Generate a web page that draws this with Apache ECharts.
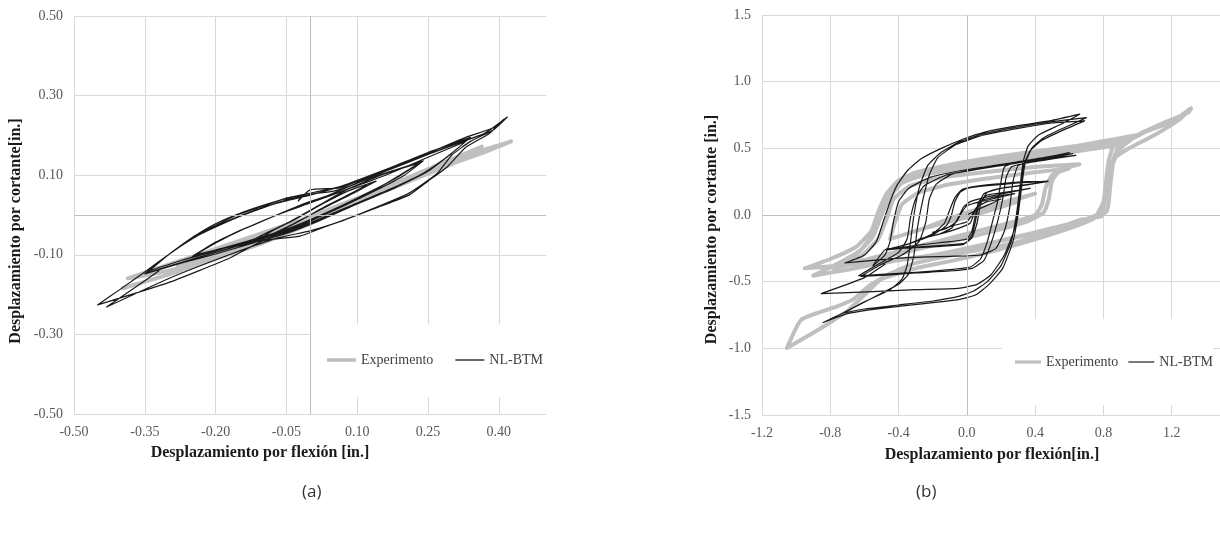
<!DOCTYPE html>
<html>
<head>
<meta charset="utf-8">
<title>Desplazamiento por cortante vs. flexión</title>
<script src="https://cdn.jsdelivr.net/npm/echarts@6/dist/echarts.min.js"></script>
<style>
html, body { margin: 0; padding: 0; background: #fff; }
#main { width: 1220px; height: 540px; }
</style>
</head>
<body>
<div id="main"></div>
<script>
// valores: [flexion, cortante] en pulgadas
var expA = [
  [0,-0.01],[0.08,0.025],[0.15,0.058],[0.08,0.022],[0,-0.015],[-0.08,-0.05],[-0.15,-0.078],[-0.08,-0.045],
  [0,-0.008],[0.1,0.038],[0.2,0.085],[0.28,0.122],[0.2,0.08],[0.1,0.032],[0,-0.018],[-0.1,-0.06],
  [-0.2,-0.1],[-0.28,-0.128],[-0.2,-0.09],[-0.1,-0.05],[0,-0.005],[0.12,0.05],[0.24,0.108],[0.3,0.14],
  [0.364,0.172],[0.3,0.135],[0.2,0.088],[0.1,0.038],[0,-0.02],[-0.1,-0.065],[-0.2,-0.105],[-0.3,-0.14],
  [-0.386,-0.159],[-0.3,-0.125],[-0.2,-0.085],[-0.1,-0.045],[0,-0.005],[0.1,0.042],[0.2,0.09],[0.3,0.14],
  [0.38,0.168],[0.426,0.185],[0.37,0.158],[0.3,0.128],[0.2,0.08],[0.1,0.032],[0,-0.022],[-0.1,-0.07],
  [-0.2,-0.11],[-0.3,-0.15],[-0.397,-0.184]
];
var btmA = [
  [0,0],[0.05,0.03],[0.1,0.06],[0.12,0.075],[0.08,0.05],[0.03,0.02],[-0.03,-0.02],[-0.08,-0.05],[-0.12,-0.07],
  [-0.08,-0.04],[-0.03,-0.01],[0.03,0.03],[0.08,0.06],[0.14,0.085],[0.1,0.06],[0.04,0.025],[-0.04,-0.025],
  [-0.1,-0.058],[-0.15,-0.08],[-0.1,-0.05],[-0.04,-0.015],
  [0.02,0.025],[0.08,0.065],[0.15,0.1],[0.23,0.13],
  [0.19,0.1],[0.14,0.065],[0.08,0.03],[0.02,-0.005],[-0.04,-0.035],[-0.1,-0.058],[-0.17,-0.08],[-0.244,-0.1],
  [-0.2,-0.07],[-0.15,-0.04],[-0.09,-0.01],[-0.03,0.02],[0.03,0.045],[0.1,0.08],[0.17,0.108],[0.235,0.133],
  [0.19,0.098],[0.13,0.06],[0.07,0.025],[0,-0.012],[-0.06,-0.04],[-0.13,-0.065],[-0.19,-0.085],[-0.248,-0.103],
  [-0.2,-0.068],[-0.14,-0.035],[-0.08,-0.005],[-0.02,0.025],[0.04,0.05],[0.11,0.085],[0.18,0.113],[0.24,0.136],
  [0.2,0.1],[0.14,0.062],[0.07,0.022],[0,-0.015],[-0.07,-0.045],[-0.14,-0.07],[-0.2,-0.088],[-0.25,-0.105],
  [-0.2,-0.07],[-0.14,-0.035],[-0.07,0],[0,0.03],[0.08,0.065],[0.16,0.1],[0.25,0.145],[0.33,0.185],
  [0.29,0.145],[0.24,0.105],[0.17,0.065],[0.09,0.025],[0.02,-0.01],[-0.05,-0.04],[-0.12,-0.062],[-0.2,-0.09],[-0.27,-0.113],[-0.34,-0.14],
  [-0.3,-0.1],[-0.25,-0.06],[-0.2,-0.028],[-0.14,0.002],[-0.07,0.03],[0,0.05],[0.08,0.076],[0.16,0.11],[0.25,0.152],[0.335,0.19],
  [0.295,0.15],[0.245,0.108],[0.175,0.066],[0.095,0.025],[0.02,-0.012],[-0.05,-0.043],[-0.12,-0.066],[-0.2,-0.094],[-0.27,-0.118],[-0.345,-0.145],
  [-0.3,-0.1],[-0.25,-0.057],[-0.2,-0.022],[-0.14,0.008],[-0.07,0.035],[-0.02,0.05],[0.06,0.07],[0.16,0.114],[0.25,0.157],[0.34,0.195],
  [0.3,0.155],[0.25,0.11],[0.18,0.068],[0.1,0.028],[0.02,-0.014],[-0.05,-0.046],[-0.12,-0.07],[-0.2,-0.098],[-0.27,-0.12],[-0.35,-0.148],
  [-0.3,-0.1],[-0.248,-0.055],[-0.2,-0.026],[-0.155,0],[-0.1,0.022],[-0.049,0.043],[-0.017,0.05],[-0.025,0.035],[0,0.063],
  [0.064,0.068],[0.106,0.088],[0.2,0.13],[0.3,0.175],[0.37,0.205],[0.418,0.246],
  [0.39,0.215],[0.34,0.185],[0.3,0.15],[0.27,0.105],[0.21,0.055],[0.1,0],[0.02,-0.035],[-0.021,-0.053],[-0.1,-0.065],
  [-0.17,-0.108],[-0.3,-0.17],[-0.45,-0.226],
  [-0.4,-0.185],[-0.35,-0.143],[-0.3,-0.1],[-0.248,-0.058],[-0.2,-0.03],[-0.15,-0.004],[-0.1,0.018],[-0.05,0.038],
  [0,0.052],[0.05,0.06],[0.09,0.075],[0.15,0.105],[0.25,0.155],[0.33,0.195],[0.39,0.22],[0.41,0.24],
  [0.38,0.205],[0.33,0.17],[0.29,0.12],[0.25,0.085],[0.21,0.05],[0.14,0.018],[0.06,-0.018],[0,-0.04],[-0.07,-0.058],
  [-0.16,-0.095],[-0.3,-0.16],[-0.431,-0.231],[-0.38,-0.19],[-0.32,-0.14]
];
var expB = [
  [0,0],[0.15,0.06],[0.3,0.1],[0.2,0.06],[0.05,0],[-0.1,-0.05],[-0.25,-0.1],[-0.15,-0.05],[0,0.02],[0.2,0.09],
  [0.4,0.16],[0.3,0.12],[0.1,0.04],[-0.1,-0.04],[-0.3,-0.12],[-0.45,-0.18],
  [-0.42,-0.05],[-0.38,0.08],[-0.28,0.17],[-0.1,0.23],[0.15,0.28],[0.4,0.32],[0.6,0.35],
  [0.5,0.3],[0.46,0.2],[0.44,0.08],[0.4,0],[0.25,-0.06],[0,-0.14],[-0.3,-0.24],[-0.55,-0.32],[-0.75,-0.39],
  [-0.62,-0.31],[-0.52,-0.18],[-0.47,-0.03],[-0.43,0.12],[-0.33,0.22],[-0.15,0.28],[0.1,0.32],[0.4,0.36],[0.66,0.38],
  [0.55,0.34],[0.5,0.26],[0.48,0.12],[0.45,0.02],[0.35,-0.05],[0.1,-0.14],[-0.2,-0.23],[-0.5,-0.32],[-0.78,-0.4],
  [-0.65,-0.3],[-0.55,-0.16],[-0.5,0],[-0.46,0.15],[-0.4,0.24],[-0.28,0.31],[-0.07,0.37],[0.28,0.44],[0.6,0.5],[0.8,0.53],[0.95,0.57],
  [0.86,0.52],[0.83,0.4],[0.81,0.2],[0.79,0.02],[0.65,-0.05],[0.4,-0.13],[0.1,-0.22],[-0.2,-0.3],[-0.5,-0.35],[-0.75,-0.38],[-0.95,-0.4],
  [-0.8,-0.33],[-0.65,-0.24],[-0.56,-0.12],[-0.52,0.02],[-0.47,0.16],[-0.4,0.26],[-0.3,0.32],[-0.05,0.39],[0.3,0.46],[0.65,0.52],[1,0.6],
  [0.9,0.54],[0.86,0.42],[0.84,0.22],[0.82,0.03],[0.7,-0.04],[0.45,-0.12],[0.15,-0.21],[-0.15,-0.29],[-0.45,-0.35],[-0.7,-0.41],[-0.9,-0.455],
  [-0.75,-0.36],[-0.62,-0.26],[-0.55,-0.14],[-0.5,0],[-0.45,0.14],[-0.38,0.24],[-0.25,0.3],[0,0.36],[0.3,0.42],[0.6,0.47],[0.9,0.53],[1.04,0.62],
  [1.2,0.7],[1.313,0.8],[1.297,0.768],[1.15,0.69],[1,0.6],[0.9,0.5],[0.86,0.4],[0.82,0.2],[0.8,0.05],[0.788,-0.01],
  [0.673,-0.034],[0.511,-0.109],[0.28,-0.209],[-0.02,-0.284],[-0.3,-0.36],[-0.45,-0.44],[-0.576,-0.535],[-0.668,-0.635],
  [-0.76,-0.685],[-0.97,-0.785],[-1.054,-0.998],
  [-0.843,-0.84],[-0.7,-0.72],[-0.6,-0.6],[-0.5,-0.48],[-0.3,-0.4],[0,-0.32],[0.3,-0.22],[0.6,-0.1],[0.75,-0.02],
  [0.8,0.1],[0.82,0.25],[0.86,0.42],[0.95,0.5],[1.1,0.6],[1.25,0.72],[1.3,0.79]
];
var btmB = [
  [0,0],[0.08,0.05],[0.15,0.09],[0.2,0.12],[0.12,0.1],[0.06,0.06],[0.03,0],[0,-0.05],[-0.08,-0.08],[-0.15,-0.11],
  [-0.2,-0.13],[-0.12,-0.1],[-0.06,-0.05],[-0.03,0.02],[0,0.07],[0.08,0.1],[0.18,0.13],[0.28,0.16],[0.18,0.14],
  [0.09,0.11],[0.05,0.04],[0.02,-0.06],[-0.05,-0.1],[-0.15,-0.14],[-0.28,-0.18],[-0.18,-0.15],[-0.09,-0.1],
  [-0.05,-0.02],[-0.02,0.06],[0.02,0.1],[0.1,0.13],[0.25,0.17],[0.37,0.2],
  [0.25,0.175],[0.12,0.15],[0.07,0.1],[0.05,0],[0.03,-0.12],[0,-0.18],[-0.1,-0.2],[-0.25,-0.22],[-0.472,-0.26],
  [-0.35,-0.22],[-0.2,-0.15],[-0.12,-0.08],[-0.09,0],[-0.07,0.1],[-0.04,0.17],[0,0.2],[0.12,0.22],[0.3,0.24],[0.476,0.254],
  [0.35,0.225],[0.2,0.2],[0.1,0.16],[0.07,0.08],[0.05,-0.05],[0.03,-0.15],[-0.01,-0.21],[-0.12,-0.225],[-0.3,-0.24],[-0.47,-0.262],
  [-0.33,-0.21],[-0.2,-0.14],[-0.13,-0.06],[-0.1,0.04],[-0.07,0.13],[-0.03,0.19],[0.05,0.215],[0.2,0.235],[0.35,0.25],[0.47,0.25],
  [0.36,0.23],[0.22,0.205],[0.12,0.17],[0.08,0.08],[0.06,-0.06],[0.03,-0.17],[-0.02,-0.22],[-0.15,-0.235],[-0.3,-0.245],[-0.472,-0.255],
  [-0.55,-0.38],[-0.48,-0.3],[-0.45,-0.2],[-0.43,-0.05],[-0.4,0.1],[-0.34,0.2],[-0.22,0.28],[-0.05,0.33],[0.15,0.37],[0.35,0.41],[0.5,0.44],[0.6,0.468],
  [0.45,0.43],[0.3,0.4],[0.22,0.36],[0.2,0.25],[0.18,0.1],[0.15,-0.05],[0.12,-0.2],[0.08,-0.33],[0.02,-0.39],[-0.1,-0.41],[-0.3,-0.43],[-0.5,-0.445],[-0.634,-0.455],
  [-0.52,-0.37],[-0.4,-0.28],[-0.35,-0.18],[-0.33,-0.02],[-0.3,0.12],[-0.25,0.22],[-0.12,0.3],[0.05,0.34],[0.25,0.38],[0.45,0.42],[0.638,0.447],
  [0.5,0.42],[0.35,0.39],[0.26,0.36],[0.23,0.28],[0.21,0.12],[0.18,-0.05],[0.14,-0.22],[0.1,-0.34],[0.03,-0.4],[-0.1,-0.42],[-0.3,-0.435],[-0.45,-0.45],[-0.62,-0.46],
  [-0.5,-0.37],[-0.38,-0.3],[-0.28,-0.2],[-0.24,-0.05],[-0.22,0.12],[-0.18,0.23],[-0.08,0.31],[0.1,0.355],[0.3,0.395],[0.62,0.46],
  [0.5,0.43],[0.38,0.4],[0.3,0.37],[0.27,0.25],[0.25,0.05],[0.22,-0.12],[0.17,-0.25],[0.08,-0.3],[-0.1,-0.31],[-0.35,-0.32],[-0.55,-0.34],[-0.714,-0.36],
  [-0.6,-0.3],[-0.53,-0.2],[-0.49,-0.05],[-0.45,0.1],[-0.41,0.22],[-0.35,0.33],[-0.27,0.42],[-0.15,0.5],[-0.02,0.57],[0.1,0.62],[0.3,0.67],[0.5,0.71],[0.661,0.756],
  [0.55,0.68],[0.42,0.6],[0.36,0.52],[0.33,0.4],[0.31,0.2],[0.29,0],[0.26,-0.2],[0.2,-0.38],[0.12,-0.5],[0.04,-0.57],[-0.05,-0.61],[-0.2,-0.645],[-0.4,-0.675],[-0.6,-0.705],[-0.726,-0.735],
  [-0.6,-0.65],[-0.45,-0.56],[-0.38,-0.48],[-0.35,-0.38],[-0.33,-0.2],[-0.31,0],[-0.28,0.2],[-0.23,0.37],[-0.15,0.47],[-0.04,0.55],[0.1,0.61],[0.3,0.66],[0.5,0.7],[0.7,0.73],
  [0.58,0.66],[0.45,0.58],[0.38,0.5],[0.34,0.38],[0.32,0.2],[0.3,0],[0.27,-0.2],[0.21,-0.4],[0.13,-0.52],[0.05,-0.6],[-0.05,-0.635],[-0.25,-0.665],[-0.5,-0.7],[-0.7,-0.74],[-0.842,-0.806],
  [-0.7,-0.72],[-0.52,-0.6],[-0.4,-0.52],[-0.34,-0.44],[-0.31,-0.3],[-0.29,-0.1],[-0.26,0.1],[-0.22,0.3],[-0.17,0.43],[-0.06,0.53],[0.1,0.6],[0.3,0.65],[0.5,0.69],[0.69,0.706],
  [0.57,0.64],[0.44,0.56],[0.37,0.48],[0.33,0.36],[0.31,0.15],[0.28,-0.1],[0.22,-0.3],[0.14,-0.45],[0.06,-0.52],[-0.05,-0.55],[-0.3,-0.56],[-0.55,-0.575],[-0.853,-0.59],
  [-0.6,-0.47],[-0.48,-0.37]
];
var seriesNames = ['Experimento', 'NL-BTM'];
var captions = ['(a)', '(b)'];

var serif = 'Liberation Serif';
var gridColor = '#d9d9d9';
var zeroColor = '#bfbfbf';

var myChart = echarts.init(document.getElementById('main'));

function valueAxis(idx, min, max, step, digits, name, gap, pad) {
    return {
        type: 'value',
        gridIndex: idx,
        min: min,
        max: max,
        interval: step,
        axisLine: { show: false },
        axisTick: { show: false },
        axisLabel: {
            color: '#595959',
            fontFamily: serif,
            fontSize: 14,
            margin: 11,
            formatter: function (v) { return v.toFixed(digits); }
        },
        splitLine: { lineStyle: { color: gridColor, width: 1 } },
        name: name,
        nameLocation: 'middle',
        nameGap: gap,
        nameTextStyle: {
            fontFamily: serif,
            fontWeight: 'bold',
            fontSize: 16,
            color: '#1a1a1a',
            padding: pad
        }
    };
}

var xA = valueAxis(0, -0.5, 0.5, 0.15, 2, 'Desplazamiento por flexión [in.]', 31, [0, 100, 0, 0]);
xA.splitLine.showMaxLine = false;
xA.axisLabel.showMaxLabel = false;
var yA = valueAxis(0, -0.5, 0.5, 0.2, 2, 'Desplazamiento por cortante[in.]', 50, [0, 32, 0, 0]);
var xB = valueAxis(1, -1.2, 1.6, 0.4, 1, 'Desplazamiento por flexión[in.]', 32, [0, 18, 0, 0]);
var yB = valueAxis(1, -1.5, 1.5, 0.5, 1, 'Desplazamiento por cortante [in.]', 42, [0, 29, 0, 0]);

function legendBox(left, top, pad, gap, width) {
    return {
        data: [
            { name: 'Experimento', icon: 'path://M0,0H40V5H0Z' },
            { name: 'NL-BTM', icon: 'path://M0,0H40V1.8H0Z' }
        ],
        left: left,
        top: top,
        width: 300,
        orient: 'horizontal',
        itemWidth: width,
        itemHeight: 12,
        itemGap: gap,
        padding: pad,
        backgroundColor: '#ffffff',
        selectedMode: false,
        textStyle: { fontFamily: serif, fontSize: 14, color: '#404040' }
    };
}

function zeroLines(idx) {
    return {
        type: 'line',
        name: 'ejes',
        xAxisIndex: idx,
        yAxisIndex: idx,
        data: [[0, 0]],
        symbol: 'none',
        lineStyle: { width: 0 },
        silent: true,
        z: 1,
        markLine: {
            silent: true,
            symbol: 'none',
            label: { show: false },
            lineStyle: { color: zeroColor, width: 1, type: 'solid' },
            emphasis: { disabled: true },
            data: [{ xAxis: 0 }, { yAxis: 0 }]
        }
    };
}

function curve(name, idx, data, color, width, z) {
    return {
        type: 'line',
        name: name,
        xAxisIndex: idx,
        yAxisIndex: idx,
        data: data,
        symbol: 'none',
        showSymbol: false,
        smooth: 0.15,
        clip: true,
        silent: true,
        z: z,
        lineStyle: { color: color, width: width, cap: 'round', join: 'round' },
        itemStyle: { color: color },
        emphasis: { disabled: true }
    };
}

var option = {
    backgroundColor: '#ffffff',
    animation: false,
    grid: [
        { left: 74, top: 16, width: 472, height: 398, outerBoundsMode: 'none' },
        { left: 762, top: 15, width: 478, height: 400, outerBoundsMode: 'none' }
    ],
    xAxis: [xA, xB],
    yAxis: [yA, yB],
    legend: [
        legendBox(311, 324, [29, 12, 30, 16], 22, 29),
        legendBox(1002, 319, [36, 0, 36, 13], 10, 26)
    ],
    graphic: [
        { type: 'text', left: 302, top: 484, style: { text: captions[0], font: '17px "Open Sans"', fill: '#333' } },
        { type: 'text', left: 916, top: 484, style: { text: captions[1], font: '17px "Open Sans"', fill: '#333' } }
    ],
    series: [
        zeroLines(0),
        zeroLines(1),
        curve(seriesNames[0], 0, expA, '#bfbfbf', 4, 2),
        curve(seriesNames[1], 0, btmA, '#1a1a1a', 1.2, 3),
        curve(seriesNames[0], 1, expB, '#bfbfbf', 4, 2),
        curve(seriesNames[1], 1, btmB, '#1a1a1a', 1.2, 3)
    ]
};

myChart.setOption(option);
</script>
</body>
</html>
